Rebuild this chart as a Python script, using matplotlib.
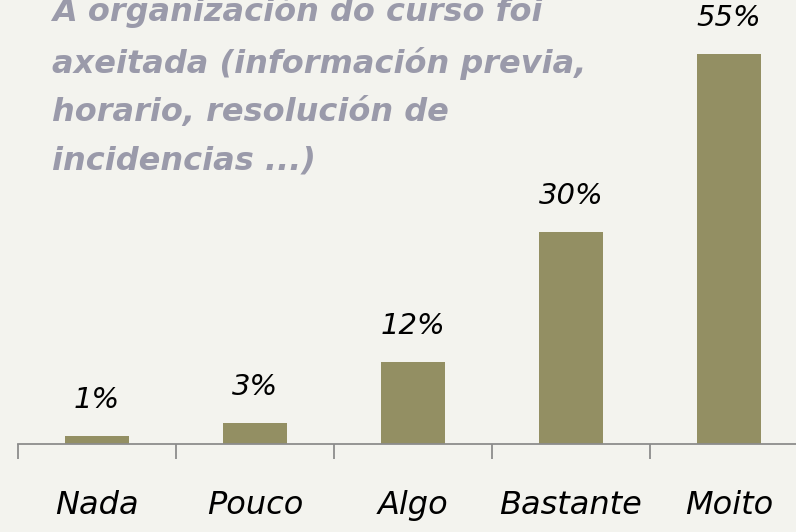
import matplotlib.pyplot as plt

categories = ["Nada", "Pouco", "Algo", "Bastante", "Moito"]
values = [1.1, 3.0, 11.6, 30.0, 55.3]
labels = ["1%", "3%", "12%", "30%", "55%"]
title = "A organización do curso foi\naxeitada (información previa,\nhorario, resolución de\nincidencias ...)"

bg = "#f3f3ee"
bar_color = "#938f63"
axis_color = "#8c8c8c"
hand = "DejaVu Sans"

fig = plt.figure(figsize=(7.96, 5.32), dpi=100, facecolor=bg)
# axes spans past the right edge, like the original slide crop
ax = fig.add_axes([18 / 796, 88 / 532, 790 / 796, 444 / 532])
ax.set_facecolor(bg)

x = range(len(categories))
ax.bar(x, values, width=0.4, color=bar_color)
for i, (v, lab) in enumerate(zip(values, labels)):
    ax.annotate(lab, (i, v), xytext=(0, 16), textcoords="offset points",
                ha="center", va="bottom", fontsize=21, style="italic",
                family=hand, color="black")

ax.set_xlim(-0.5, 4.5)
ax.set_ylim(0, 444 / 7.05)
ax.set_xticks([i - 0.5 for i in range(len(categories) + 1)])
ax.set_xticklabels([])
ax.tick_params(axis="x", length=11, width=1.3, color=axis_color, direction="out")
ax.set_yticks([])
for side in ["top", "right", "left"]:
    ax.spines[side].set_visible(False)
ax.spines["bottom"].set_color(axis_color)
ax.spines["bottom"].set_linewidth(1.3)

for i, cat in enumerate(categories):
    ax.text(i, -8.7, cat, ha="center", va="center", fontsize=23,
            style="italic", family=hand, color="black", clip_on=False)

fig.text(52 / 796, 1 - 86 / 532, title, ha="left", va="center",
         fontsize=23, fontweight="bold", style="italic", color="#9a9aaa",
         linespacing=1.72)

fig.savefig("out.png", dpi=100, facecolor=bg)
